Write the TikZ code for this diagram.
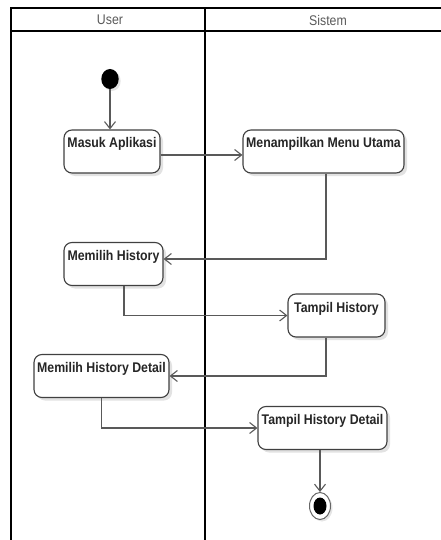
\documentclass[tikz,border=0pt]{standalone}
\usepackage{fontspec}
\setmainfont{Liberation Sans}[FakeStretch=0.88]
\usetikzlibrary{arrows.meta,shadows,calc,shapes.geometric}
\begin{document}
\begin{tikzpicture}[x=1pt,y=-1pt,
  lane/.style={line width=2pt,draw=black},
  lanetitle/.style={font=\fontsize{14}{16}\selectfont,text=black!65},
  action/.style={draw=black!75,line width=1.1pt,rounded corners=8pt,fill=white,
     font=\bfseries\fontsize{14}{16}\selectfont,text=black!85,
     text height=11pt,text depth=18pt,inner ysep=7pt,inner xsep=2pt,
     drop shadow={shadow xshift=3pt,shadow yshift=-3pt,fill=black!25,opacity=0.45}},
  startdot/.style={ellipse,fill=black,inner sep=0pt,minimum width=17.4pt,minimum height=20pt,
     drop shadow={shadow xshift=2pt,shadow yshift=-2pt,fill=black!25,opacity=0.4}},
  endring/.style={ellipse,draw=black!60,line width=1pt,fill=white,inner sep=0pt,
     minimum width=21pt,minimum height=27pt,
     drop shadow={shadow xshift=2pt,shadow yshift=-2pt,fill=black!25,opacity=0.4}},
  enddot/.style={ellipse,fill=black,inner sep=0pt,minimum width=13pt,minimum height=17pt},
  flow/.style={draw=black!65,line width=1.1pt,-{Straight Barb[length=7pt,width=11pt]}},
]
\useasboundingbox (0,0) rectangle (441,540);

% swimlane frame
\draw[lane] (11,546) -- (11,8) -- (447,8);
\draw[lane] (11,31) -- (447,31);
\draw[lane] (205,8) -- (205,546);
\node[lanetitle] (userT) at (110,20) {User};
\node[lanetitle] (sysT) at (328,20) {Sistem};

% activities
\node[startdot] (start) at (110,79) {};
\node[action,minimum width=96pt]  (ma)  at (112,151.5)   {Masuk Aplikasi};
\node[action,minimum width=161pt] (mu)  at (323.5,151.5) {Menampilkan Menu Utama};
\node[action,minimum width=99pt]  (mh)  at (113.5,264)   {Memilih History};
\node[action,minimum width=97pt]  (th)  at (336.5,315.5) {Tampil History};
\node[action,minimum width=135pt] (mhd) at (101.5,376)   {Memilih History Detail};
\node[action,minimum width=129pt] (thd) at (322.5,428)   {Tampil History Detail};
\node[endring] (end) at (320,506) {};
\node[enddot] (endDot) at (end) {};

% control flow
\draw[flow] (start) -- (start |- ma.north);
\draw[flow] ($(ma.east)+(0,3.5)$) -- ($(mu.west)+(0,3.5)$);
\draw[flow] ([xshift=2.5pt]mu.south) |- ([yshift=5pt]mh.east);
\draw[flow] ([xshift=10.5pt]mh.south) |- (th.west);
\draw[flow] ([xshift=-10.5pt]th.south) |- (mhd.east);
\draw[flow] (mhd.south) |- (thd.west);
\draw[flow] (thd.south -| end) -- (end.north);
\end{tikzpicture}
\end{document}
